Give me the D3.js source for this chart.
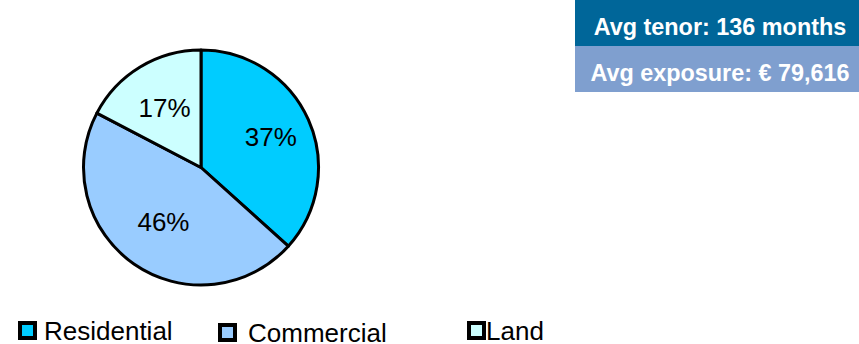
<!DOCTYPE html>
<html>
<head>
<meta charset="utf-8">
<script src="https://cdn.jsdelivr.net/npm/d3@7"></script>
<style>
  body { margin: 0; background: #fff; }
  svg { display: block; font-family: Arial, "Liberation Sans", sans-serif; }
</style>
</head>
<body>
<script>
// data
const categories = ["Residential", "Commercial", "Land"];
const shares = [36.6, 45.9, 17.3];
const sliceLabels = ["37%", "46%", "17%"];
const colors = ["#00CCFF", "#99CCFF", "#CCFFFF"];
const infoLines = ["Avg tenor: 136 months", "Avg exposure: € 79,616"];
const infoColors = ["#006699", "#7F9FCF"];

const canvWidth = 859, canvHeight = 344;

const svg = d3.select("body").append("svg")
  .attr("width", canvWidth)
  .attr("height", canvHeight);

//pie
const cx = 201, cy = 167.5, radius = 117.5;
const pie = d3.pie().sort(null).value(d => d);
const arc = d3.arc().innerRadius(0).outerRadius(radius);
const labelRadius = [0.65, 0.56, 0.6];  // fraction of radius, per slice

const g = svg.append("g").attr("transform", `translate(${cx},${cy})`);
const arcs = pie(shares);

g.selectAll("path")
  .data(arcs)
  .enter().append("path")
  .attr("d", arc)
  .attr("fill", (d, i) => colors[i])
  .attr("stroke", "#000")
  .attr("stroke-width", 3)
  .attr("stroke-linejoin", "round");

g.selectAll("text")
  .data(arcs)
  .enter().append("text")
  .attr("transform", (d, i) => {
    const r = radius * labelRadius[i];
    return `translate(${d3.arc().innerRadius(r).outerRadius(r).centroid(d)})`;
  })
  .attr("dy", "0.36em")
  .attr("text-anchor", "middle")
  .attr("font-size", 26)
  .attr("fill", "#000")
  .text((d, i) => sliceLabels[i]);

//legend
const legendX = [18, 218, 467];
const legendTextX = [44, 248, 486];
const legendBase = [340, 342, 340];
const legend = svg.append("g");
categories.forEach((c, i) => {
  legend.append("rect")
    .attr("x", legendX[i] + 2)
    .attr("y", legendBase[i] - 17)
    .attr("width", 15)
    .attr("height", 15)
    .attr("fill", colors[i])
    .attr("stroke", "#000")
    .attr("stroke-width", 4);
  legend.append("text")
    .attr("x", legendTextX[i])
    .attr("y", legendBase[i])
    .attr("font-size", 26)
    .attr("fill", "#000")
    .text(c);
});

//info boxes
const boxX = 575, boxW = 290, boxH = 46;
infoLines.forEach((t, i) => {
  svg.append("rect")
    .attr("x", boxX)
    .attr("y", i * boxH)
    .attr("width", boxW)
    .attr("height", boxH)
    .attr("fill", infoColors[i]);
  svg.append("text")
    .attr("x", 720)
    .attr("y", i * boxH + 35)
    .attr("text-anchor", "middle")
    .attr("font-size", 23.4)
    .attr("font-weight", "bold")
    .attr("fill", "#fff")
    .text(t);
});
</script>
</body>
</html>
